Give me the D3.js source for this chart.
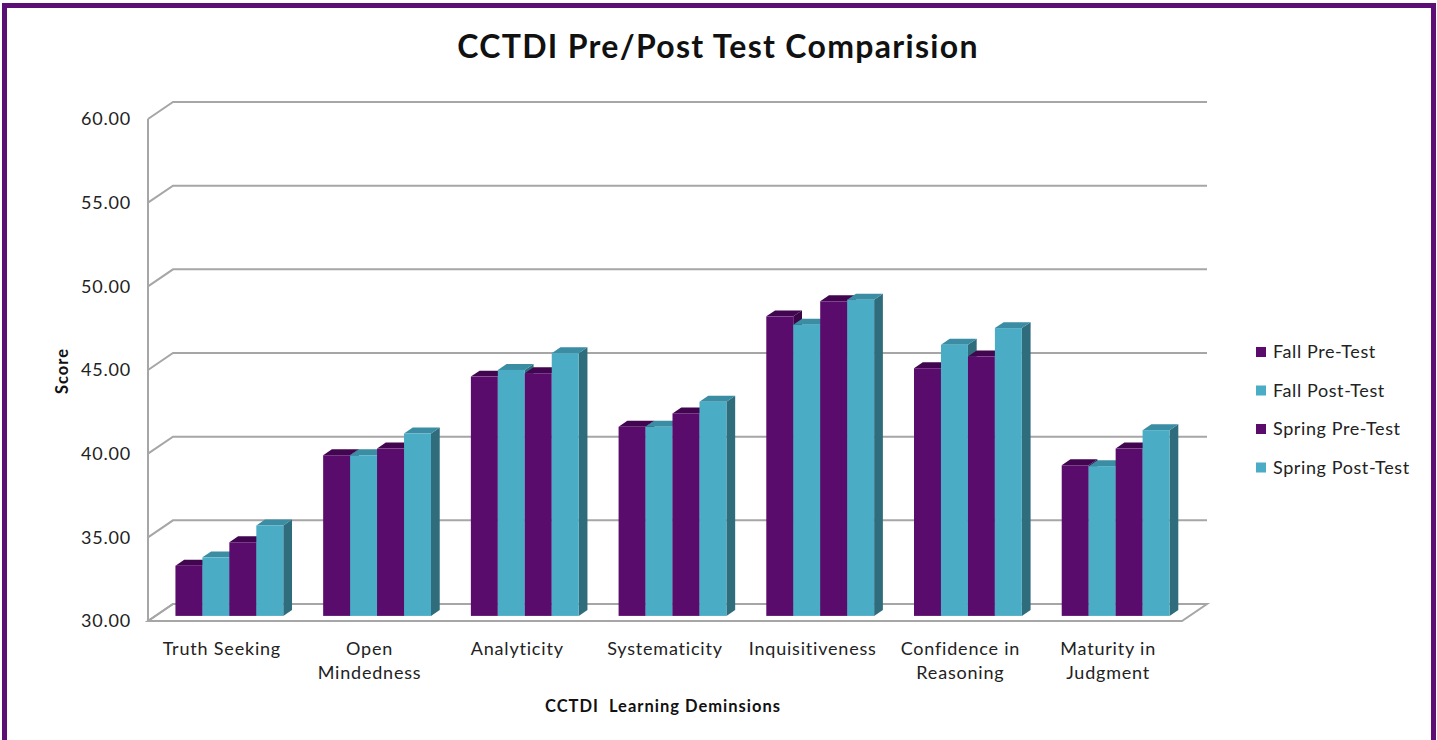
<!DOCTYPE html>
<html>
<head>
<meta charset="utf-8">
<script src="https://cdn.jsdelivr.net/npm/d3@7"></script>
<style>
  body { margin: 0; background: #fff; }
  svg { display: block; font-family: Lato, "Open Sans", sans-serif; }
</style>
</head>
<body>
<div id="chart"></div>
<script>
// data
const categories = ["Truth Seeking", "Open Mindedness", "Analyticity", "Systematicity",
  "Inquisitiveness", "Confidence in Reasoning", "Maturity in Judgment"];
const categoryLines = [["Truth Seeking"], ["Open", "Mindedness"], ["Analyticity"], ["Systematicity"],
  ["Inquisitiveness"], ["Confidence in", "Reasoning"], ["Maturity in", "Judgment"]];
const seriesNames = ["Fall Pre-Test", "Fall Post-Test", "Spring Pre-Test", "Spring Post-Test"];
const fallPre    = [33.0, 39.6, 44.3, 41.3, 47.9, 44.8, 39.0];
const fallPost   = [33.5, 39.6, 44.7, 41.3, 47.4, 46.2, 38.95];
const springPre  = [34.4, 40.0, 44.5, 42.1, 48.8, 45.5, 40.0];
const springPost = [35.4, 40.9, 45.7, 42.8, 48.9, 47.2, 41.1];
const yTicks = [30, 35, 40, 45, 50, 55, 60];

const series = [fallPre, fallPost, springPre, springPost];

const W = 1437, H = 740;
const colors = [
  { front: "#5a0c6d", top: "#420650", side: "#3b0548" },
  { front: "#4bacc6", top: "#3a8da3", side: "#2f6d7d" },
  { front: "#5a0c6d", top: "#420650", side: "#3b0548" },
  { front: "#4bacc6", top: "#3a8da3", side: "#2f6d7d" }
];

// 3D depth of the plot box
const depth = { dx: 25, dy: -17 };
const barPlane = 0.3, barDepth = 0.35;

const svg = d3.select("#chart").append("svg")
  .attr("width", W).attr("height", H);

// purple frame
svg.append("rect")
  .attr("x", 4.5).attr("y", 5.5)
  .attr("width", 1429).attr("height", 800)
  .attr("fill", "#fff")
  .attr("stroke", "#5b0f74").attr("stroke-width", 5);

const x = d3.scaleBand().domain(categories).range([148, 1182])
  .paddingInner(0.27).paddingOuter(0.135);
const xs = d3.scaleBand().domain(d3.range(4)).range([0, x.bandwidth()]);
const y = d3.scaleLinear().domain([30, 60]).range([621, 119]);

const grid = "#a6a6a6";
const left = 148, right = 1182;

// back wall gridlines + left wall diagonals
yTicks.forEach(t => {
  const yy = y(t);
  svg.append("path")
    .attr("d", `M${left},${yy}L${left + depth.dx},${yy + depth.dy}L${right + depth.dx},${yy + depth.dy}`)
    .attr("fill", "none").attr("stroke", grid).attr("stroke-width", 2);
});
// left wall front edge
svg.append("line")
  .attr("x1", left).attr("x2", left)
  .attr("y1", y(60)).attr("y2", y(30))
  .attr("stroke", grid).attr("stroke-width", 2);
// floor
svg.append("path")
  .attr("d", `M${left},${y(30)}L${right},${y(30)}L${right + depth.dx},${y(30) + depth.dy}L${left + depth.dx},${y(30) + depth.dy}Z`)
  .attr("fill", "none").attr("stroke", grid).attr("stroke-width", 2);

// y tick labels
svg.append("g").selectAll("text").data(yTicks).join("text")
  .attr("x", 131).attr("y", d => y(d))
  .attr("dy", "0.35em")
  .attr("text-anchor", "end")
  .attr("font-size", 18).attr("letter-spacing", 0.8).attr("fill", "#222")
  .text(d => d.toFixed(2));

// bars
const ox = depth.dx * barPlane, oy = depth.dy * barPlane;
const bx = depth.dx * barDepth, by = depth.dy * barDepth;
const bars = svg.append("g");
categories.forEach((c, i) => {
  series.forEach((s, j) => {
    const x0 = x(c) + xs(j) + ox;
    const w = xs.bandwidth();
    const yt = y(s[i]) + oy, yb = y(30) + oy;
    const col = colors[j];
    bars.append("path")
      .attr("d", `M${x0 + w},${yt}L${x0 + w + bx},${yt + by}L${x0 + w + bx},${yb + by}L${x0 + w},${yb}Z`)
      .attr("fill", col.side);
    bars.append("path")
      .attr("d", `M${x0},${yt}L${x0 + bx},${yt + by}L${x0 + w + bx},${yt + by}L${x0 + w},${yt}Z`)
      .attr("fill", col.top);
    bars.append("rect")
      .attr("x", x0).attr("y", yt)
      .attr("width", w).attr("height", yb - yt)
      .attr("fill", col.front);
  });
});

// category labels
categories.forEach((c, i) => {
  const cx = x(c) + x.bandwidth() / 2;
  const t = svg.append("text")
    .attr("x", cx)
    .attr("y", 655)
    .attr("text-anchor", "middle")
    .attr("font-size", 18).attr("letter-spacing", 0.8).attr("fill", "#222");
  categoryLines[i].forEach((line, k) => {
    t.append("tspan").attr("x", cx)
      .attr("dy", k === 0 ? 0 : 24).text(line);
  });
});

// title
svg.append("text")
  .attr("x", 718).attr("y", 58)
  .attr("text-anchor", "middle")
  .attr("font-size", 32).attr("font-weight", "bold").attr("letter-spacing", 1.3).attr("fill", "#111")
  .text("CCTDI Pre/Post Test Comparision");

// axis titles
svg.append("text")
  .attr("x", 663).attr("y", 712)
  .attr("text-anchor", "middle")
  .attr("font-size", 16.5).attr("font-weight", "bold").attr("letter-spacing", 1).attr("fill", "#111")
  .style("white-space", "pre")
  .text("CCTDI  Learning Deminsions");
svg.append("text")
  .attr("transform", "translate(68,371) rotate(-90)")
  .attr("text-anchor", "middle")
  .attr("font-size", 16.5).attr("font-weight", "bold").attr("letter-spacing", 1).attr("fill", "#111")
  .text("Score");

// legend
const legend = svg.append("g").attr("transform", "translate(1256,352)");
seriesNames.forEach((n, j) => {
  const g = legend.append("g").attr("transform", `translate(0,${j * 38.5})`);
  g.append("rect").attr("x", 0).attr("y", -5).attr("width", 10).attr("height", 10)
    .attr("fill", colors[j].front);
  g.append("text").attr("x", 17).attr("y", 0).attr("dy", "0.35em")
    .attr("font-size", 18).attr("letter-spacing", 0.6).attr("fill", "#222").text(n);
});
</script>
</body>
</html>
